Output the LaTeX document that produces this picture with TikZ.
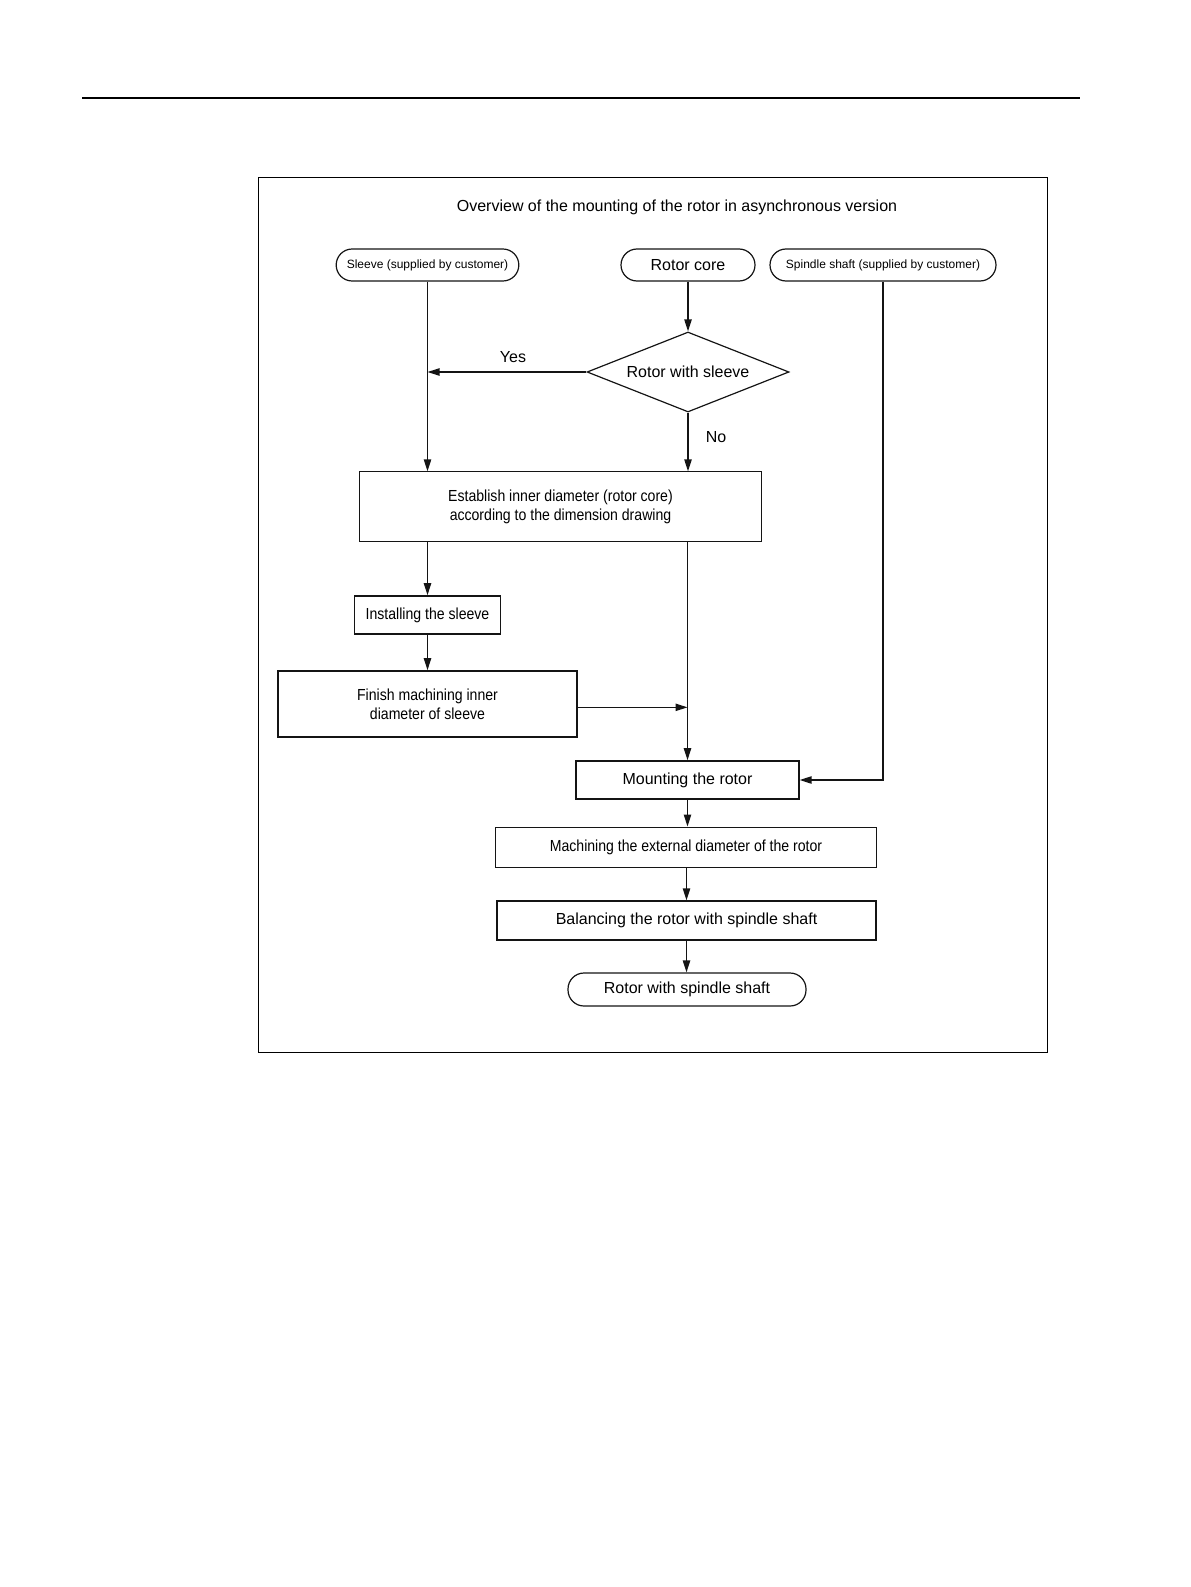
\documentclass[tikz,border=0pt]{standalone}
\usepackage{fontspec}
\setmainfont{Liberation Sans}
\newfontfamily\narrowsf[FakeStretch=0.88]{Liberation Sans}
\usetikzlibrary{arrows.meta,shapes.geometric}
\definecolor{myline}{rgb}{0.08,0.08,0.08}

\begin{document}
\begin{tikzpicture}[x=0.75pt,y=-0.75pt,
    >={Triangle[length=9pt,width=5.5pt]},
    flow/.style={myline,line width=1pt},
    terminal/.style={draw=myline,line width=0.9pt,rounded corners=12pt,inner sep=0pt,minimum height=24pt},
    stepbox/.style={draw=myline,line width=1.2pt,inner sep=0pt,align=center},
    thinbox/.style={draw=myline,line width=0.7pt,inner sep=0pt,align=center},
    decision/.style={draw=myline,line width=0.9pt,diamond,aspect=2.5,inner sep=0pt,minimum width=151.5pt,minimum height=60pt}]
  \useasboundingbox (0,0) rectangle (1191,1587);
  \draw[line width=1.1pt] (82,98) -- (1080,98);
  \draw[line width=0.7pt] (258,177) rectangle (1047,1052);
  \node[font=\fontsize{12}{14.4}\selectfont] (title) at (677,207) {Overview of the mounting of the rotor in asynchronous version};
  % sources
  \node[terminal,minimum width=137pt,font=\fontsize{9}{11}\selectfont] (sleeve) at (427.5,265) {Sleeve (supplied by customer)};
  \node[terminal,minimum width=100.5pt,font=\fontsize{12}{14.4}\selectfont] (core) at (688,265) {Rotor core};
  \node[terminal,minimum width=169.5pt,font=\fontsize{9}{11}\selectfont] (spindle) at (883,265) {Spindle shaft (supplied by customer)};
  \node[decision,font=\fontsize{12}{14.4}\selectfont] (check) at (688,372) {Rotor with sleeve};
  % steps
  \node[thinbox,minimum width=302pt,minimum height=52pt,font=\narrowsf\fontsize{12}{14.4}\selectfont] (establish) at (560.5,506.5) {Establish inner diameter (rotor core)\\according to the dimension drawing};
  \node[stepbox,minimum width=109.5pt,minimum height=28.5pt,font=\narrowsf\fontsize{12}{14.4}\selectfont] (install) at (427.5,615) {Installing the sleeve};
  \node[stepbox,minimum width=224pt,minimum height=49.5pt,font=\narrowsf\fontsize{12}{14.4}\selectfont] (finish) at (427.5,704) {Finish machining inner\\diameter of sleeve};
  \node[stepbox,minimum width=167pt,minimum height=28.5pt,font=\fontsize{12}{14.4}\selectfont] (mount) at (687.5,780) {Mounting the rotor};
  \node[thinbox,minimum width=286pt,minimum height=30pt,font=\narrowsf\fontsize{12}{14.4}\selectfont] (machining) at (686,847) {Machining the external diameter of the rotor};
  \node[stepbox,minimum width=284pt,minimum height=29pt,font=\fontsize{12}{14.4}\selectfont] (balancing) at (686.5,920.5) {Balancing the rotor with spindle shaft};
  \node[terminal,minimum width=178.5pt,minimum height=24.75pt,font=\fontsize{12}{14.4}\selectfont] (final) at (687,989.5) {Rotor with spindle shaft};
  % connectors
  \draw[flow,->] (sleeve.south) -- (sleeve.south |- establish.north);
  \draw[flow,->] (core) -- (check);
  \draw[flow,->] (check.west) -- (check.west -| sleeve.south);
  \node[font=\fontsize{12}{14.4}\selectfont] (yes) at (513,357) {Yes};
  \draw[flow,->] (check.south) -- (check.south |- establish.north);
  \node[font=\fontsize{12}{14.4}\selectfont] (no) at (716,437) {No};
  \draw[flow,->] (install.north |- establish.south) -- (install.north);
  \draw[flow,->] (install.south) -- (install.south |- finish.north);
  \draw[flow,->] (mount.north |- establish.south) -- (mount.north);
  \draw[flow,->] ([yshift=-2.5pt]finish.east) -- ([yshift=-2.5pt]finish.east -| mount.north);
  \draw[flow,->] (spindle.south) |- (mount.east);
  \draw[flow,->] (mount.south) -- (mount.south |- machining.north);
  \draw[flow,->] (balancing.north |- machining.south) -- (balancing.north);
  \draw[flow,->] (balancing.south) -- (balancing.south |- final.north);
\end{tikzpicture}
\end{document}
